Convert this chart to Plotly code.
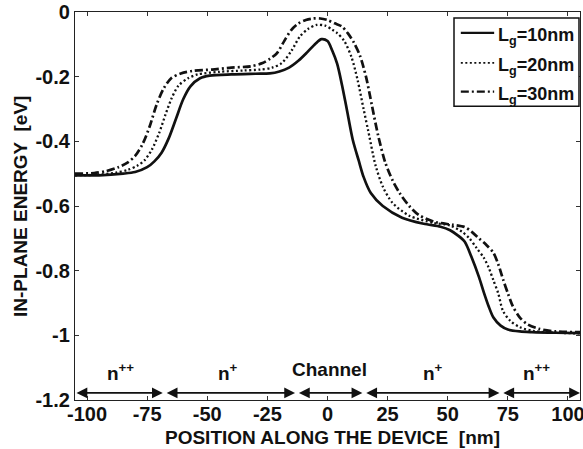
import plotly.graph_objects as go

# Conduction-band edge profiles along the device for three gate lengths
x_lg10 = [-105, -95, -85, -80, -75, -72, -69, -66, -63, -60, -57, -53, -49, -40, -30, -24, -20,
          -16, -12, -8.5, -5, -2.5, 0, 2, 4, 6, 8, 10.5, 13, 15, 18, 23, 31, 40, 47, 51, 54, 57,
          60, 63, 65, 67, 69, 72, 75, 80, 85, 95, 105]
e_lg10 = [-0.505, -0.505, -0.5, -0.495, -0.48, -0.462, -0.435, -0.39, -0.33, -0.27, -0.23, -0.205,
          -0.197, -0.193, -0.191, -0.19, -0.184, -0.172, -0.15, -0.125, -0.098, -0.084, -0.09,
          -0.12, -0.16, -0.225, -0.3, -0.395, -0.46, -0.51, -0.56, -0.6, -0.636, -0.655, -0.664,
          -0.675, -0.69, -0.71, -0.76, -0.82, -0.867, -0.91, -0.945, -0.97, -0.982, -0.988,
          -0.99, -0.992, -0.993]

x_lg20 = [-105, -95, -88, -83, -79, -76, -73, -70, -67.5, -65, -62, -58, -54, -45, -35, -28, -23,
          -19, -15, -11.5, -8, -4.5, -1, 2, 4, 7, 10, 12.5, 15, 17, 20, 23, 27, 34, 44, 51, 56,
          59, 62, 65, 67, 69, 71, 73, 76, 80, 86, 95, 105]
e_lg20 = [-0.505, -0.503, -0.497, -0.488, -0.475, -0.458, -0.425, -0.374, -0.32, -0.27, -0.228,
          -0.205, -0.193, -0.185, -0.181, -0.178, -0.172, -0.158, -0.12, -0.076, -0.052, -0.04,
          -0.042, -0.055, -0.065, -0.09, -0.14, -0.21, -0.3, -0.37, -0.475, -0.54, -0.59, -0.63,
          -0.652, -0.66, -0.68, -0.7, -0.73, -0.76, -0.79, -0.83, -0.87, -0.925, -0.955, -0.975,
          -0.987, -0.992, -0.994]

x_lg30 = [-105, -97, -92, -87, -83, -80, -77, -74, -71, -68, -65, -61, -56, -48, -40, -32, -27,
          -24, -21, -18, -15, -12, -9, -6, -3, 0, 3, 6, 8.5, 11, 13.5, 16, 18.5, 21, 24, 27, 30,
          34, 38, 45, 52, 57, 60, 63, 66, 69, 71, 73, 75, 77, 80, 83, 88, 95, 105]
e_lg30 = [-0.5, -0.498, -0.492, -0.48, -0.465, -0.445, -0.41, -0.355, -0.285, -0.235, -0.205,
          -0.19, -0.182, -0.178, -0.172, -0.168, -0.158, -0.145, -0.127, -0.09, -0.055, -0.035,
          -0.025, -0.02, -0.02, -0.025, -0.035, -0.045, -0.066, -0.095, -0.135, -0.2, -0.29,
          -0.38, -0.465, -0.52, -0.56, -0.6, -0.628, -0.65, -0.658, -0.665, -0.68, -0.7, -0.72,
          -0.745, -0.78, -0.827, -0.87, -0.909, -0.945, -0.965, -0.98, -0.988, -0.99]

series_names = ["L<sub>g</sub>=10nm", "L<sub>g</sub>=20nm", "L<sub>g</sub>=30nm"]

# Doping regions along the device
region_edges = [-105, -68, -13, 15, 72, 105]
region_labels = ["n<sup>++</sup>", "n<sup>+</sup>", "Channel", "n<sup>+</sup>", "n<sup>++</sup>"]
region_label_x = [-86, -41.5, 1, 44, 87]
region_label_y = [-1.158, -1.158, -1.143, -1.158, -1.158]
region_arrow_y = -1.178

x_ticks = [-100, -75, -50, -25, 0, 25, 50, 75, 100]
x_ticktext = ["-100", "-75", "-50", "-25", "0", "25", "50", "75", "100"]
y_ticks = [0, -0.2, -0.4, -0.6, -0.8, -1, -1.2]
y_ticktext = ["0", "-0.2", "-0.4", "-0.6", "-0.8", "-1", "-1.2"]

x_title = "POSITION ALONG THE DEVICE  [nm]"
y_title = "IN-PLANE ENERGY  [eV]"

INK = "#111111"
FONT = "Liberation Sans"

styles = [
    dict(color=INK, width=2.7, dash="solid"),
    dict(color=INK, width=2.3, dash="2px,2.5px"),
    dict(color=INK, width=2.7, dash="8px,3px,2px,3px"),
]

fig = go.Figure()
for xs, es, name, st in zip([x_lg10, x_lg20, x_lg30], [e_lg10, e_lg20, e_lg30], series_names, styles):
    fig.add_trace(go.Scatter(x=xs, y=es, mode="lines", name=name,
                             line=dict(shape="spline", smoothing=0.8, **st),
                             showlegend=False))

annotations = []
gap = 0.5
for i, lab in enumerate(region_labels):
    x0 = region_edges[i] + (gap if i > 0 else 0)
    x1 = region_edges[i + 1] - (gap if i < len(region_labels) - 1 else 0)
    annotations.append(dict(x=x1, y=region_arrow_y, ax=x0, ay=region_arrow_y,
                            xref="x", yref="y", axref="x", ayref="y",
                            showarrow=True, arrowhead=2, startarrowhead=2,
                            arrowside="end+start", arrowsize=1.35, startarrowsize=1.35,
                            arrowwidth=1.6, arrowcolor=INK, text=""))
    annotations.append(dict(x=region_label_x[i], y=region_label_y[i], xref="x", yref="y",
                            text=lab, showarrow=False, xanchor="center", yanchor="bottom",
                            font=dict(family=FONT, size=19, color=INK, weight="bold")))

# Axis titles
annotations.append(dict(x=0.509, y=-0.0954, xref="paper", yref="paper", text=x_title,
                        showarrow=False, xanchor="center", yanchor="middle",
                        font=dict(family=FONT, size=19, color=INK, weight="bold")))
annotations.append(dict(x=-0.109, y=0.5, xref="paper", yref="paper", text=y_title,
                        showarrow=False, xanchor="center", yanchor="middle", textangle=-90,
                        font=dict(family=FONT, size=19, color=INK, weight="bold")))

# Legend box drawn in paper coordinates
box_x0, box_x1 = 0.7505, 0.998
box_y0, box_y1 = 0.757, 0.9845
shapes = [dict(type="rect", xref="paper", yref="paper", x0=box_x0, x1=box_x1,
               y0=box_y0, y1=box_y1, line=dict(color=INK, width=1.5),
               fillcolor="white", layer="above")]
row_y = [0.946, 0.869, 0.795]
seg_x0, seg_x1 = 0.764, 0.830
for ry, name, st in zip(row_y, series_names, styles):
    shapes.append(dict(type="line", xref="paper", yref="paper", x0=seg_x0, x1=seg_x1,
                       y0=ry, y1=ry, layer="above",
                       line=dict(color=INK, width=st["width"] - 0.4, dash=st["dash"])))
    annotations.append(dict(x=0.834, y=ry, xref="paper", yref="paper", text=name,
                            showarrow=False, xanchor="left", yanchor="middle", yshift=-4,
                            font=dict(family=FONT, size=18, color=INK, weight="bold")))

axis_common = dict(showline=True, linecolor="#222222", linewidth=1.3, mirror="ticks",
                   ticks="inside", ticklen=4, tickwidth=1, tickcolor="#333333",
                   showgrid=False, zeroline=False, automargin=False,
                   ticklabeloverflow="allow",
                   tickfont=dict(family=FONT, size=20, color=INK, weight="bold"))

fig.update_layout(
    width=583, height=449,
    margin=dict(l=75, r=3, t=12, b=49),
    paper_bgcolor="white", plot_bgcolor="white",
    xaxis=dict(range=[-105, 105], tickvals=x_ticks, ticktext=x_ticktext,
               ticklabelstandoff=-4, **axis_common),
    yaxis=dict(range=[-1.2, 0], tickvals=y_ticks, ticktext=y_ticktext, **axis_common),
    annotations=annotations,
    shapes=shapes,
    showlegend=False,
)

fig.write_html("out.html")
